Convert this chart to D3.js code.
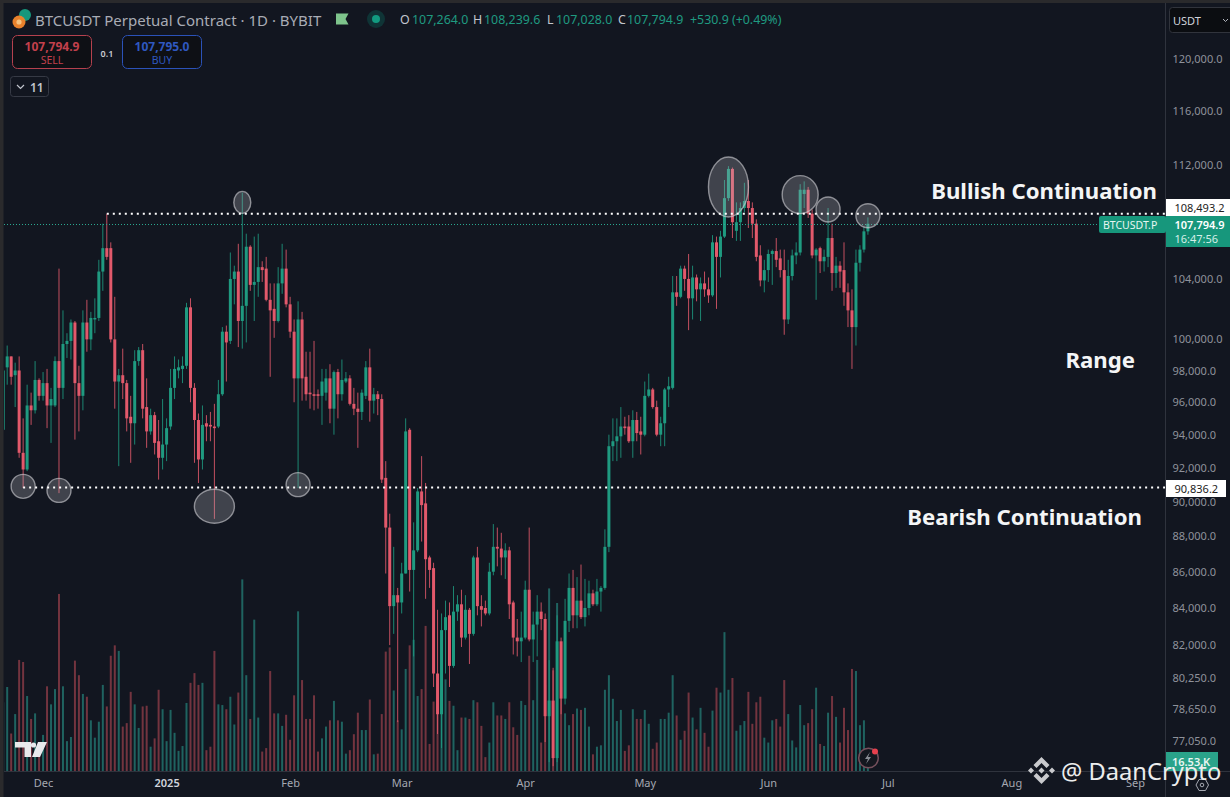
<!DOCTYPE html>
<html><head><meta charset="utf-8">
<script src="https://cdn.jsdelivr.net/npm/d3@7"></script>
<style>
html,body{margin:0;padding:0;background:#121620;width:1230px;height:797px;overflow:hidden}
svg{display:block}
text{font-family:"Noto Sans",sans-serif}
</style></head><body>
<svg id="c" width="1230" height="797"></svg>
<script>
// Daily candles from 21 Nov 2024 to 26 Jun 2025, prices in thousands of USDT
const startDate = "2024-11-21";
const opens = [94.3,98.2,98.9,97.7,98.0,92.9,91.9,95.8,95.5,97.4,96.4,97.2,95.8,95.8,98.6,96.9,99.7,99.9,101.1,97.2,96.4,101.1,100.0,101.3,101.4,104.5,106.1,106.1,100.0,97.3,97.7,97.2,95.1,94.7,98.6,99.3,95.7,94.2,95.2,93.6,92.6,93.4,94.5,96.9,98.0,98.1,98.3,102.1,96.9,94.9,92.5,94.7,94.6,94.5,94.5,96.5,100.5,99.9,104.0,104.5,101.2,102.2,106.2,103.6,103.8,104.8,104.7,102.6,102.0,101.2,103.7,104.7,102.3,100.5,97.5,101.3,97.6,96.6,96.5,96.5,96.4,96.6,97.5,95.6,97.9,96.5,97.3,97.5,95.9,95.6,95.4,96.4,98.2,96.1,96.5,96.2,91.4,88.5,84.1,84.7,84.3,85.9,94.3,86.1,87.2,90.6,89.9,86.8,86.2,80.5,78.4,82.8,83.6,80.9,83.8,84.2,82.4,83.9,82.6,86.8,84.1,84.0,83.7,86.0,87.4,87.3,86.8,87.2,84.3,82.4,82.2,82.4,85.0,82.3,83.1,83.8,83.4,78.3,79.1,76.2,82.2,79.2,83.3,85.1,83.6,84.4,83.5,84.0,84.8,84.2,84.9,85.1,87.4,93.3,93.6,93.9,94.5,94.5,93.6,94.9,94.2,94.0,96.4,96.8,95.7,94.0,94.7,96.8,96.9,103.1,102.8,104.7,104.0,102.7,104.1,103.3,103.7,103.3,102.9,106.5,105.5,106.9,109.6,111.7,107.3,107.9,108.9,109.4,108.9,107.8,105.6,103.9,104.6,105.7,105.9,105.4,104.6,101.3,104.2,105.6,105.8,109.9,110.2,108.5,105.6,106.1,105.2,105.5,106.8,104.4,104.9,104.6,103.1,101.9,100.8,105.1,106.0,107.264];
const highs = [98.3,99.6,98.9,98.5,98.9,95.0,97.1,96.6,98.6,97.5,97.9,98.1,96.9,98.9,104.7,101.9,100.4,101.3,101.2,98.3,101.9,102.6,101.8,102.7,105.3,107.8,108.5,106.5,102.8,98.1,99.4,97.4,96.4,99.3,99.5,99.7,97.5,95.6,95.4,94.9,96.2,95.0,98.1,98.9,98.7,98.9,102.4,102.7,97.2,95.3,95.8,95.2,95.4,95.9,97.4,100.8,100.9,105.8,104.9,106.4,110.0,107.1,106.3,106.9,107.1,105.2,105.5,103.7,103.7,104.8,106.4,106.0,102.8,101.3,102.5,101.8,99.2,99.2,99.9,96.8,98.1,98.1,98.4,98.0,98.1,98.7,97.9,97.7,96.9,96.6,96.8,98.6,99.4,96.9,96.7,96.5,92.4,89.3,87.4,85.1,86.5,95.0,94.4,88.8,90.8,92.7,91.1,86.9,86.5,83.9,83.7,84.4,84.3,85.2,84.7,85.0,84.7,84.0,86.9,87.4,84.7,84.4,86.5,88.7,88.5,88.2,87.6,87.4,84.4,83.4,83.8,85.5,88.5,83.8,84.7,84.3,83.7,81.2,80.8,83.6,82.4,84.5,85.9,86.1,85.7,86.4,85.6,85.5,85.0,85.6,85.2,88.4,94.0,95.0,95.0,95.7,95.1,95.2,95.5,95.4,95.1,97.3,97.8,96.9,96.1,95.1,96.9,97.6,104.2,104.2,104.9,104.9,105.7,104.9,104.3,104.1,104.5,104.1,107.0,106.9,107.3,110.9,111.9,111.8,109.3,109.3,110.7,110.9,109.3,108.1,106.3,105.3,106.0,106.0,106.8,106.0,106.0,105.3,106.0,106.5,110.6,110.8,110.4,108.8,106.1,106.2,106.0,108.9,107.8,105.5,105.2,106.5,103.7,103.3,106.0,106.3,107.6,108.2396];
const lows = [94.3,97.1,97.1,95.7,92.6,90.8,91.8,94.6,95.3,96.1,96.1,94.4,93.5,95.7,90.5,96.2,98.8,98.7,93.7,94.2,95.5,99.2,99.3,100.4,101.2,103.2,105.3,99.8,95.6,92.1,96.2,94.2,92.3,93.4,98.3,95.0,93.2,94.0,92.8,91.3,91.9,92.4,94.3,96.2,97.5,97.2,98.1,96.0,92.3,91.1,91.9,93.6,93.6,89.0,94.4,96.4,97.3,99.7,102.3,99.5,99.4,99.8,103.2,101.2,102.8,103.8,102.5,97.6,100.1,101.1,103.0,102.1,100.1,96.0,90.8,96.1,96.1,95.6,95.5,95.6,94.6,96.1,94.7,94.0,95.0,96.1,97.2,95.8,95.2,93.2,94.9,96.2,94.8,95.3,95.2,91.1,85.9,82.0,82.6,78.0,83.7,85.9,84.9,81.4,87.1,87.7,84.5,85.1,79.8,77.4,76.7,80.5,79.8,80.8,83.3,81.9,82.3,81.0,82.5,83.6,83.0,83.6,83.6,85.8,86.3,85.8,85.6,83.4,81.5,81.4,81.1,82.3,82.2,81.1,81.4,82.8,77.0,76.0,75.8,76.0,78.4,78.9,82.7,82.9,82.9,83.4,83.0,83.6,84.1,84.1,83.8,85.0,87.1,92.4,92.4,92.6,94.0,93.5,92.6,93.6,92.8,93.9,96.3,95.6,93.9,93.3,93.3,95.7,96.8,102.2,102.7,103.2,100.6,101.3,102.5,101.2,102.8,102.4,102.8,102.0,104.1,106.8,109.4,106.8,106.6,106.6,108.6,107.5,106.8,105.2,103.5,103.1,103.8,103.6,104.8,104.1,100.3,101.0,103.9,105.0,105.6,108.9,108.2,105.4,102.6,104.4,104.5,104.8,103.2,103.4,103.4,102.2,100.8,98.1,99.6,104.5,105.8,107.028];
const closes = [98.0,98.9,97.6,98.0,92.9,91.9,95.8,95.5,97.4,96.4,97.2,95.8,96.2,98.6,96.9,99.7,99.9,101.1,97.2,96.4,101.1,100.0,101.4,101.4,104.5,106.1,105.5,100.0,97.3,97.7,97.2,95.0,94.7,98.6,99.3,95.6,94.2,95.2,93.5,92.6,93.4,94.4,96.9,98.1,98.2,98.3,102.1,96.9,94.9,92.5,94.6,94.5,94.5,94.4,96.5,100.5,99.8,104.0,104.5,101.2,102.2,106.2,103.6,103.8,104.8,104.6,102.6,101.9,101.2,103.7,104.7,102.3,100.5,97.5,101.3,97.5,96.5,96.5,96.4,96.4,97.3,97.5,95.6,97.9,96.5,97.4,97.5,95.9,95.6,95.4,96.6,98.2,96.1,96.5,96.2,91.3,88.5,84.1,84.7,84.3,85.9,94.2,86.1,87.2,90.6,89.8,86.7,86.1,80.5,78.4,82.8,83.5,80.9,83.8,84.2,82.4,83.9,82.6,86.8,84.1,83.9,83.7,86.0,87.4,87.3,86.8,87.2,84.2,82.4,82.2,82.4,85.0,82.3,83.1,83.8,83.4,78.3,79.1,76.2,82.2,79.2,83.3,85.1,83.6,84.4,83.5,84.0,84.8,84.2,84.9,85.1,87.4,93.3,93.6,93.9,94.5,94.4,93.6,94.9,94.1,94.0,96.4,96.8,95.7,94.0,94.7,96.8,97.0,103.1,102.8,104.7,104.0,102.7,104.1,103.3,103.7,103.3,102.9,106.5,105.5,106.9,109.6,111.7,107.9,107.9,108.9,109.4,108.9,107.8,105.5,103.9,104.6,105.7,105.9,105.3,104.6,101.3,104.2,105.6,105.8,110.2,110.2,108.5,105.6,106.0,105.2,105.5,106.8,104.4,104.9,104.5,103.1,101.9,100.8,105.1,106.0,107.264,107.7949];
// Volume in thousands of BTC
const volumes = [100,122,55,83,161,158,109,76,84,36,53,123,97,119,256,123,44,50,160,139,112,108,74,49,72,125,94,167,182,174,65,70,115,97,63,94,95,36,48,118,90,44,89,56,30,37,99,128,142,125,128,31,36,174,97,96,90,108,68,114,277,139,76,219,78,29,34,145,84,84,66,82,46,110,231,132,76,76,110,29,48,65,74,102,74,72,26,31,54,85,60,60,104,25,26,83,173,179,117,74,61,148,182,190,109,119,210,40,101,120,118,133,102,95,31,78,78,76,103,100,66,21,42,100,81,81,76,100,64,53,102,96,167,103,161,42,125,264,146,243,122,84,67,83,91,89,92,65,25,36,38,118,139,105,73,89,30,38,90,76,76,89,69,33,42,76,76,85,139,81,46,59,114,78,61,92,56,36,88,121,114,201,118,135,59,67,73,115,69,100,108,49,42,74,76,65,132,83,45,35,96,67,70,90,121,40,37,85,109,79,42,92,60,148,145,67,74,16.53];

const priceTicks = [120000,116000,112000,104000,100000,98000,96000,94000,92000,90000,88000,86000,84000,82000,80250,78650,77050];
const monthTicks = ["2024-12-01","2025-01-01","2025-02-01","2025-03-01","2025-04-01","2025-05-01","2025-06-01","2025-07-01","2025-08-01","2025-09-01"];
const monthLabels = ["Dec","2025","Feb","Mar","Apr","May","Jun","Jul","Aug","Sep"];
const levels = [{v:108493.2,from:"2024-12-17"},{v:90836.2,from:"2024-11-26"}];
const lastPrice = 107794.9;
const circles = [["2025-01-20",109300,8.5,11],["2025-05-22",110400,20,30],["2025-06-09",109850,18,19],["2025-06-16",108800,12,12.5],["2025-06-26",108350,12,12],["2024-11-26",90900,12,12],["2024-12-05",90660,12,12],["2025-01-13",89730,20,17],["2025-02-03",91000,12,12]];
const notes = [["Bullish Continuation",1157,190],["Range",1135,359],["Bearish Continuation",1142,516]];

const GREEN="#1f9a80",RED="#e2596b";
const svg=d3.select("#c");
const W=1230,H=797,paneL=4,paneR=1165,paneB=771;
const parse=d3.utcParse("%Y-%m-%d");
const dates=opens.map((_,i)=>d3.utcDay.offset(parse(startDate),i));
const x=d3.scaleUtc().domain([parse("2024-12-01"),parse("2025-09-01")]).range([43.05,1134.9]);
const y=d3.scaleLog().domain([77050,120000]).range([741,58.5]);
const yv=d3.scaleLinear().domain([0,280]).range([771.7,577.3]);

svg.append("rect").attr("width",W).attr("height",H).attr("fill","#121620");
svg.append("rect").attr("width",W).attr("height",3).attr("fill","#2a2a2c");
svg.append("rect").attr("width",3.5).attr("height",H).attr("fill","#2a2a2c");
svg.append("defs").append("clipPath").attr("id","pane").append("rect").attr("x",paneL).attr("y",3).attr("width",paneR-paneL).attr("height",paneB-3);
const pane=svg.append("g").attr("clip-path","url(#pane)");
const up=i=>closes[i]>=opens[i];

// volume
pane.append("g").selectAll("rect").data(volumes).join("rect")
 .attr("x",(d,i)=>x(dates[i])-1).attr("width",2)
 .attr("y",d=>yv(d)).attr("height",d=>yv(0)-yv(d))
 .attr("fill",(d,i)=>up(i)?"#1f6360":"#73343f");

// candles
pane.append("g").selectAll("line").data(opens).join("line")
 .attr("x1",(d,i)=>x(dates[i])).attr("x2",(d,i)=>x(dates[i]))
 .attr("y1",(d,i)=>y(highs[i]*1000)).attr("y2",(d,i)=>y(lows[i]*1000))
 .attr("stroke",(d,i)=>up(i)?GREEN:RED).attr("stroke-width",1).attr("stroke-opacity",.85);
pane.append("g").selectAll("rect").data(opens).join("rect")
 .attr("x",(d,i)=>x(dates[i])-1.5).attr("width",3)
 .attr("y",(d,i)=>y(Math.max(d,closes[i])*1000))
 .attr("height",(d,i)=>Math.max(1,Math.abs(y(d*1000)-y(closes[i]*1000))))
 .attr("fill",(d,i)=>up(i)?GREEN:RED);

// last-price dotted line
pane.append("line").attr("x1",paneL).attr("x2",1099).attr("y1",Math.round(y(lastPrice))+.5).attr("y2",Math.round(y(lastPrice))+.5)
 .attr("stroke","#2aa890").attr("stroke-width",1).attr("stroke-dasharray","1 2");

// circled wicks
pane.append("g").selectAll("ellipse").data(circles).join("ellipse")
 .attr("cx",d=>x(parse(d[0]))).attr("cy",d=>y(d[1])).attr("rx",d=>d[2]).attr("ry",d=>d[3])
 .attr("fill","rgba(190,190,195,.27)").attr("stroke","rgba(205,205,210,.62)").attr("stroke-width",1.4);

// horizontal levels
svg.append("g").selectAll("line").data(levels).join("line")
 .attr("x1",d=>x(parse(d.from))).attr("x2",paneR).attr("y1",d=>y(d.v)).attr("y2",d=>y(d.v))
 .attr("stroke","#fff").attr("stroke-width",2).attr("stroke-dasharray","2 4");

// axes frames
svg.append("line").attr("x1",paneR+.5).attr("x2",paneR+.5).attr("y1",3).attr("y2",H).attr("stroke","#2f333d");
svg.append("line").attr("x1",paneL).attr("x2",W).attr("y1",paneB+.5).attr("y2",paneB+.5).attr("stroke","#2f333d");

const yAxis=d3.axisRight(y).tickValues(priceTicks).tickSize(0).tickPadding(7.5).tickFormat(d3.format(",.1f"));
const ga=svg.append("g").attr("transform",`translate(${paneR},0)`).call(yAxis);
ga.select(".domain").remove();
ga.selectAll("text").attr("fill","#8f929b").style("font-size","11px").style("font-family","'Noto Sans',sans-serif");

const xAxis=d3.axisBottom(x).tickValues(monthTicks.map(parse)).tickSize(0).tickPadding(8).tickFormat((d,i)=>monthLabels[i]);
const gx=svg.append("g").attr("transform",`translate(0,${paneB})`).call(xAxis);
gx.select(".domain").remove();
gx.selectAll("text").attr("fill","#a5a8b1").style("font-size","11px").style("font-family","'Noto Sans',sans-serif");
gx.selectAll("text").filter((d,i)=>monthLabels[i]==="2025").attr("fill","#d1d4dc").style("font-weight",600);

function label(t,xp,yp,o={}){
 return svg.append("text").attr("x",xp).attr("y",yp).attr("dominant-baseline","central")
  .attr("text-anchor",o.a||"start").attr("fill",o.f||"#b2b5be")
  .style("font-size",(o.s||12)+"px").style("font-weight",o.w||400).text(t);
}
// price tags
svg.append("rect").attr("x",1166).attr("y",199).attr("width",64).attr("height",17).attr("fill","#fff");
label(d3.format(",.1f")(levels[0].v),1174.5,207.5,{f:"#222",s:11});
svg.append("rect").attr("x",1166).attr("y",480).attr("width",60).attr("height",17).attr("fill","#fff");
label(d3.format(",.1f")(levels[1].v),1174.5,488.5,{f:"#222",s:11});
svg.append("rect").attr("x",1166).attr("y",216).attr("width",64).attr("height",31).attr("fill","#17977c");
label(d3.format(",.1f")(lastPrice),1174.5,224,{f:"#fff",s:11,w:600});
label("16:47:56",1174.5,238,{f:"#d5efe8",s:11});
svg.append("rect").attr("x",1099).attr("y",216).attr("width",67).attr("height",17).attr("rx",2).attr("fill","#17977c");
label("BTCUSDT.P",1103,224.5,{f:"#e8f6f2",s:10.5});
svg.append("rect").attr("x",1166).attr("y",752).attr("width",52).attr("height",19).attr("fill","#2aa38a");
label("16.53 K",1172,761,{f:"#e8f6f2",s:11,w:600});
// currency box
svg.append("rect").attr("x",1169.5).attr("y",7.5).attr("width",70).attr("height",25).attr("rx",3).attr("fill","#0b0d11").attr("stroke","#31343c");
label("USDT",1173,20,{f:"#d1d4dc",s:11});
svg.append("path").attr("d","M1223 19l2.5 2.5 2.5-2.5").attr("fill","none").attr("stroke","#b2b5be");

// header
svg.append("circle").attr("cx",25).attr("cy",15).attr("r",6).attr("fill","#17977c");
svg.append("circle").attr("cx",19).attr("cy",22).attr("r",6.5).attr("fill","#e8822c");
svg.append("circle").attr("cx",19).attr("cy",22).attr("r",2.6).attr("fill","#f6c27e");
label("BTCUSDT Perpetual Contract · 1D · BYBIT",35,19.5,{f:"#a9acb5",s:15});
svg.append("path").attr("d","M336 13.5h12.5l-3 5.5 3 5.5h-12.5z").attr("fill","#7ec48c");
svg.append("circle").attr("cx",376).attr("cy",19).attr("r",9).attr("fill","#0f3436");
svg.append("circle").attr("cx",376).attr("cy",19).attr("r",4).attr("fill","#129a80");
const ohlc=[["O",400,"107,264.0",412],["H",473,"108,239.6",484],["L",547,"107,028.0",556],["C",618,"107,794.9",627]];
ohlc.forEach(d=>{label(d[0],d[1],19.5,{f:"#c3c6ce",s:12.4});label(d[2],d[3],19.5,{f:"#1f9a80",s:12.4});});
label("+530.9 (+0.49%)",690,19.5,{f:"#1f9a80",s:12.4});

// sell/buy
svg.append("rect").attr("x",12.5).attr("y",35.5).attr("width",79).attr("height",33).attr("rx",5).attr("fill","#0e1015").attr("stroke","#b5414e");
label("107,794.9",52,46,{a:"middle",f:"#c2404c",s:12,w:700});
label("SELL",52,60,{a:"middle",f:"#c2404c",s:10.5});
svg.append("rect").attr("x",122.5).attr("y",35.5).attr("width",79).attr("height",33).attr("rx",5).attr("fill","#0e1015").attr("stroke","#2b52b8");
label("107,795.0",162,46,{a:"middle",f:"#2f58c0",s:12,w:700});
label("BUY",162,60,{a:"middle",f:"#2f58c0",s:10.5});
label("0.1",107,53,{a:"middle",f:"#c9cbd0",s:9,w:600});
svg.append("rect").attr("x",10.5).attr("y",76.5).attr("width",38).attr("height",20).attr("rx",3).attr("fill","none").attr("stroke","#363a45");
svg.append("path").attr("d","M17 85l3.5 3.5 3.5-3.5").attr("fill","none").attr("stroke","#c3c6ce").attr("stroke-width",1.2);
label("11",30,87,{f:"#c3c6ce",s:12,w:600});

// annotations
notes.forEach(n=>label(n[0],n[1],n[2],{a:"end",f:"#f4f5f6",s:22.2,w:700}));

// TV logo
svg.append("path").attr("d","M15 742h16v15h-6.5v-9.5H15zM32 757l6-15h9l-7 15z").attr("fill","#e8e9ec");
svg.append("circle").attr("cx",33.5).attr("cy",745).attr("r",2.6).attr("fill","#e8e9ec");

// lightning
svg.append("circle").attr("cx",868.5).attr("cy",758).attr("r",9.8).attr("fill","#14171f").attr("stroke","#75505c").attr("stroke-width",1.5);
svg.append("path").attr("d","M870 752l-5 7h3l-2 5 5-7h-3z").attr("fill","#8b8e96");
svg.append("circle").attr("cx",875).attr("cy",751.5).attr("r",3).attr("fill","#e8404e");

// settings icon
svg.append("path").attr("d","M1196 785l3-5.5h6.5l3 5.5-3 5.5h-6.5z").attr("fill","none").attr("stroke","#a5a8b1");
svg.append("circle").attr("cx",1202).attr("cy",785).attr("r",1.8).attr("fill","none").attr("stroke","#a5a8b1");

// watermark
const bn=svg.append("g").attr("fill","#c9cacd").attr("transform","translate(1041.5,770.5)");
bn.append("path").attr("d","M0-13.5l8 8-3 3-5-5-5 5-3-3zM0 13.5l8-8-3-3 0 0 3 3zM0 13.5l-8-8 3-3 5 5 5-5 3 3z");
bn.append("path").attr("d","M-13.5 0l3-3 3 3-3 3zM7.5 0l3-3 3 3-3 3zM0-3l3 3-3 3-3-3z");
label("@ DaanCrypto",1061,771,{f:"#eceded",s:23.7});
</script>
</body></html>
